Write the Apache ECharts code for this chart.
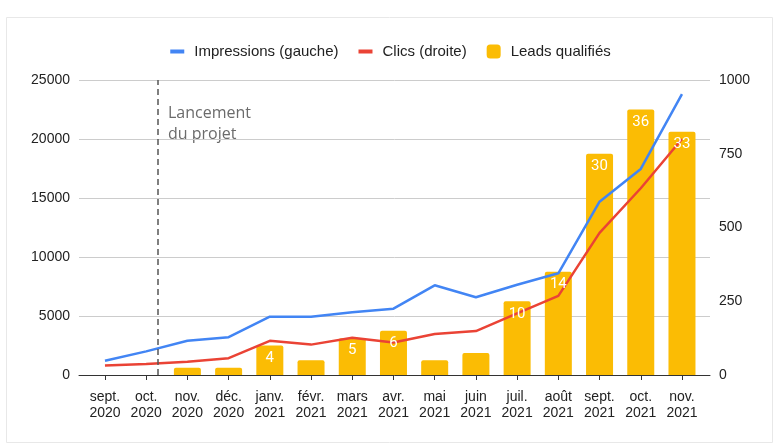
<!DOCTYPE html>
<html>
<head>
<meta charset="utf-8">
<script src="https://cdn.jsdelivr.net/npm/echarts@6/dist/echarts.min.js"></script>
<style>
html,body{margin:0;padding:0;background:#fff;}
#chart{width:781px;height:446px;}
</style>
</head>
<body>
<div id="chart"></div>
<script>
const categories = ['sept.\n2020','oct.\n2020','nov.\n2020','déc.\n2020','janv.\n2021','févr.\n2021','mars\n2021','avr.\n2021','mai\n2021','juin\n2021','juil.\n2021','août\n2021','sept.\n2021','oct.\n2021','nov.\n2021'];
const impressions = [1210, 2000, 2900, 3200, 4940, 4940, 5310, 5620, 7600, 6590, 7650, 8620, 14690, 17460, 23810];
const clics = [32, 37, 45, 57, 116, 103, 126, 110, 139, 149, 209, 268, 482, 633, 800];
const leads = [0, 0, 1, 1, 4, 2, 5, 6, 2, 3, 10, 14, 30, 36, 33];
const launchPosition = 1.28;
const launchLabel = 'Lancement\ndu projet';

const idx = categories.map((c, i) => i);
const font = '"Liberation Sans", Arial, sans-serif';
const lineIcon = 'path://M0,0 L14,0 L14,4 L0,4 Z';

const chart = echarts.init(document.getElementById('chart'), null, {renderer: 'canvas'});
chart.setOption({
  animation: false,
  backgroundColor: '#fff',
  textStyle: {fontFamily: font},
  graphic: [
    {type: 'rect', shape: {x: 6.5, y: 17.5, width: 766, height: 425}, style: {fill: 'none', stroke: '#e8e8e8', lineWidth: 1}, z: -1},
    {type: 'text', left: 168, top: 103, style: {text: launchLabel, fill: '#6b6b6b', font: '16px "Open Sans", sans-serif', lineHeight: 21}}
  ],
  legend: {
    top: 39,
    left: 'center',
    itemWidth: 14,
    itemHeight: 14,
    itemGap: 20,
    textStyle: {fontSize: 15, color: '#222', fontFamily: font, padding: [0, 0, 0, 5]},
    data: [
      {name: 'Impressions (gauche)', icon: lineIcon, symbolKeepAspect: true, itemStyle: {color: '#4285F4'}},
      {name: 'Clics (droite)', icon: lineIcon, symbolKeepAspect: true, itemStyle: {color: '#EA4335'}},
      {name: 'Leads qualifiés', icon: 'roundRect'}
    ]
  },
  grid: {left: 79, right: 71, top: 80, bottom: 71, containLabel: false},
  xAxis: {
    type: 'value',
    min: -0.63,
    max: 14.68,
    splitLine: {show: false},
    axisLine: {show: true, lineStyle: {color: '#333', width: 1}},
    axisTick: {show: true, customValues: idx, length: 5, lineStyle: {color: '#333'}},
    axisLabel: {
      customValues: idx,
      formatter: v => categories[Math.round(v)],
      fontSize: 14, color: '#222', lineHeight: 16, margin: 14, fontFamily: font
    }
  },
  yAxis: [
    {type: 'value', min: 0, max: 25000, interval: 5000, position: 'left',
     axisLine: {show: false}, axisTick: {show: false},
     axisLabel: {fontSize: 14, color: '#222', margin: 9, fontFamily: font, formatter: v => String(v)},
     splitLine: {lineStyle: {color: '#cccccc', width: 1}}},
    {type: 'value', min: 0, max: 1000, interval: 250, position: 'right',
     axisLine: {show: false}, axisTick: {show: false},
     axisLabel: {fontSize: 14, color: '#222', margin: 9, fontFamily: font, formatter: v => String(v)},
     splitLine: {show: false}},
    {type: 'value', min: 0, max: 40, show: false, splitLine: {show: false}}
  ],
  series: [
    {
      name: 'Leads qualifiés', type: 'bar', yAxisIndex: 2,
      data: leads.map((v, i) => [i, v]),
      barWidth: 27,
      itemStyle: {color: '#FBBC04', borderRadius: [2, 2, 0, 0]},
      z: 1
    },
    {
      name: 'Leads qualifiés', type: 'bar', yAxisIndex: 2,
      data: leads.map((v, i) => [i, v]),
      barWidth: 27, barGap: '-100%',
      itemStyle: {color: 'rgba(0,0,0,0)'},
      label: {
        show: true, position: 'insideTop', distance: 5,
        color: '#fff', fontSize: 15, fontFamily: 'Roboto, sans-serif',
        formatter: p => (p.value[1] >= 4 ? String(p.value[1]) : '')
      },
      silent: true,
      z: 5
    },
    {
      name: 'Impressions (gauche)', type: 'line', yAxisIndex: 0,
      data: impressions.map((v, i) => [i, v]),
      symbol: 'none', lineStyle: {color: '#4285F4', width: 2.5}, itemStyle: {color: '#4285F4'},
      z: 3,
      markLine: {
        silent: true, symbol: 'none', label: {show: false},
        lineStyle: {color: '#555', type: [6, 4], width: 1.5},
        data: [{xAxis: launchPosition}]
      }
    },
    {
      name: 'Clics (droite)', type: 'line', yAxisIndex: 1,
      data: clics.map((v, i) => [i, v]),
      symbol: 'none', lineStyle: {color: '#EA4335', width: 2.5}, itemStyle: {color: '#EA4335'},
      z: 3
    }
  ]
});
</script>
</body>
</html>
